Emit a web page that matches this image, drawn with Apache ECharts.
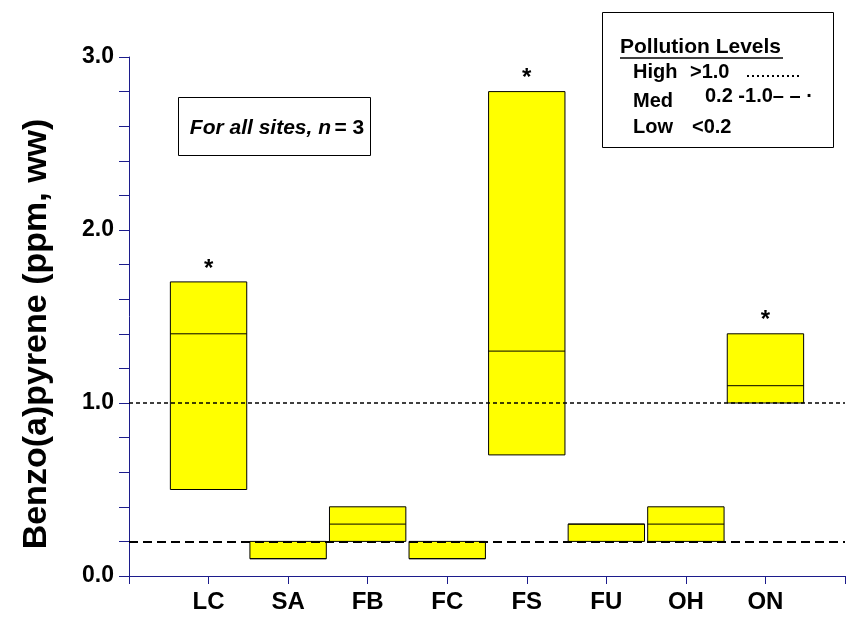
<!DOCTYPE html>
<html>
<head>
<meta charset="utf-8">
<script src="https://cdn.jsdelivr.net/npm/echarts@6/dist/echarts.min.js"></script>
<style>
html,body{margin:0;padding:0;background:#fff;}
#chart{width:848px;height:617px;}
</style>
</head>
<body>
<div id="chart"></div>
<script>
// ---- data ----
const categories = ['LC', 'SA', 'FB', 'FC', 'FS', 'FU', 'OH', 'ON'];
const lowValues    = [0.5, 0.1, 0.2, 0.1, 0.7, 0.2, 0.2, 1.0];
const medianValues = [1.4, 0.1, 0.3, 0.1, 1.3, 0.3, 0.3, 1.1];
const highValues   = [1.7, 0.2, 0.4, 0.2, 2.8, 0.3, 0.4, 1.4];
const significant  = [true, false, false, false, true, false, false, true];
const highThreshold = 1.0;
const medThreshold = 0.2;
const yTicks = [0, 1, 2, 3];

const FONT = '"Liberation Sans", Arial, Helvetica, sans-serif';
const AXIS_COLOR = '#1c1c8c';

const boxData = categories.map((c, i) => [i + 1, lowValues[i], medianValues[i], highValues[i], significant[i] ? 1 : 0]);

const chart = echarts.init(document.getElementById('chart'), null, {renderer: 'canvas'});

const option = {
  animation: false,
  backgroundColor: '#fff',
  grid: {left: 129, right: 0, top: 57, bottom: 41, containLabel: false},
  xAxis: {
    type: 'value', min: 0, max: 9, interval: 1,
    axisLine: {show: true, lineStyle: {color: AXIS_COLOR, width: 1}},
    axisTick: {show: true, length: 8, lineStyle: {color: AXIS_COLOR}},
    splitLine: {show: false},
    axisLabel: {
      margin: 14, color: '#000', fontFamily: FONT, fontWeight: 'bold', fontSize: 24,
      formatter: v => (v >= 1 && v <= categories.length) ? categories[v - 1] : ''
    }
  },
  yAxis: {
    type: 'value', min: yTicks[0], max: yTicks[yTicks.length - 1], interval: 1,
    axisLine: {show: true, lineStyle: {color: AXIS_COLOR, width: 1}},
    axisTick: {show: true, length: 10, lineStyle: {color: AXIS_COLOR}},
    minorTick: {show: true, splitNumber: 5, length: 10, lineStyle: {color: AXIS_COLOR}},
    splitLine: {show: false},
    axisLabel: {
      margin: 15, color: '#000', fontFamily: FONT, fontWeight: 'bold', fontSize: 23,
      formatter: v => v.toFixed(1)
    }
  },
  series: [
    {
      type: 'custom',
      data: boxData,
      encode: {x: 0, y: [1, 2, 3]},
      z: 2,
      renderItem: function (params, api) {
        const x = api.value(0);
        const half = 0.48;
        const pLowL = api.coord([x - half, api.value(1)]);
        const pHighR = api.coord([x + half, api.value(3)]);
        const pMedL = api.coord([x - half, api.value(2)]);
        const pMedR = api.coord([x + half, api.value(2)]);
        const top = api.coord([x, api.value(3)]);
        const children = [
          {type: 'rect', shape: {x: pLowL[0], y: pHighR[1], width: pHighR[0] - pLowL[0], height: pLowL[1] - pHighR[1]},
           style: {fill: '#ffff00', stroke: '#000', lineWidth: 1}},
          {type: 'line', shape: {x1: pMedL[0], y1: pMedL[1], x2: pMedR[0], y2: pMedR[1]},
           style: {stroke: '#000', lineWidth: 1}}
        ];
        if (api.value(4)) {
          children.push({type: 'text', style: {x: top[0], y: top[1] - 13, text: '*', fill: '#000',
            font: 'bold 24px ' + FONT, align: 'center', verticalAlign: 'middle'}});
        }
        return {type: 'group', children: children};
      }
    },
    {
      type: 'line', data: [], z: 3,
      markLine: {
        silent: true, symbol: 'none', label: {show: false},
        data: [
          {yAxis: highThreshold, lineStyle: {color: '#000', width: 1.5, type: [4, 3]}},
          {yAxis: medThreshold, lineStyle: {color: '#000', width: 2, type: [9, 5]}}
        ]
      }
    }
  ],
  graphic: [
    {type: 'text', x: 37, y: 334, rotation: Math.PI / 2, z: 11, style: {
      text: 'Benzo(a)pyrene (ppm, ww)', fill: '#000', font: 'bold 34px ' + FONT,
      align: 'center', verticalAlign: 'middle'}},
    {type: 'rect', left: 178, top: 97, shape: {width: 192, height: 58}, style: {fill: '#fff', stroke: '#000', lineWidth: 1}, z: 10},
    {type: 'text', x: 277, y: 128, z: 11, style: {
      text: '{i|For all sites, n} {b|= 3}', fill: '#000', align: 'center', verticalAlign: 'middle',
      rich: {i: {font: 'italic bold 21px ' + FONT}, b: {font: 'bold 21px ' + FONT}}
    }},
    {type: 'rect', left: 602, top: 12, shape: {width: 231, height: 135}, style: {fill: '#fff', stroke: '#000', lineWidth: 1}, z: 10},
    {type: 'text', x: 620, y: 47, z: 11, style: {text: 'Pollution Levels', fill: '#000', font: 'bold 21px ' + FONT, verticalAlign: 'middle'}},
    {type: 'line', z: 11, shape: {x1: 620, y1: 58, x2: 783, y2: 58}, style: {stroke: '#000', lineWidth: 1.5}},
    {type: 'text', x: 633, y: 72, z: 11, style: {text: 'High', fill: '#000', font: 'bold 20px ' + FONT, verticalAlign: 'middle'}},
    {type: 'text', x: 690, y: 72, z: 11, style: {text: '>1.0', fill: '#000', font: 'bold 20px ' + FONT, verticalAlign: 'middle'}},
    {type: 'line', z: 11, shape: {x1: 747, y1: 76, x2: 802, y2: 76}, style: {stroke: '#000', lineWidth: 2, lineDash: [2, 3]}},
    {type: 'text', x: 633, y: 101, z: 11, style: {text: 'Med', fill: '#000', font: 'bold 20px ' + FONT, verticalAlign: 'middle'}},
    {type: 'text', x: 705, y: 96, z: 11, style: {text: '0.2 -1.0\u2013 \u2013 \u00b7', fill: '#000', font: 'bold 20px ' + FONT, verticalAlign: 'middle'}},
    {type: 'text', x: 633, y: 127, z: 11, style: {text: 'Low', fill: '#000', font: 'bold 20px ' + FONT, verticalAlign: 'middle'}},
    {type: 'text', x: 692, y: 127, z: 11, style: {text: '<0.2', fill: '#000', font: 'bold 20px ' + FONT, verticalAlign: 'middle'}}
  ]
};
chart.setOption(option);
</script>
</body>
</html>
